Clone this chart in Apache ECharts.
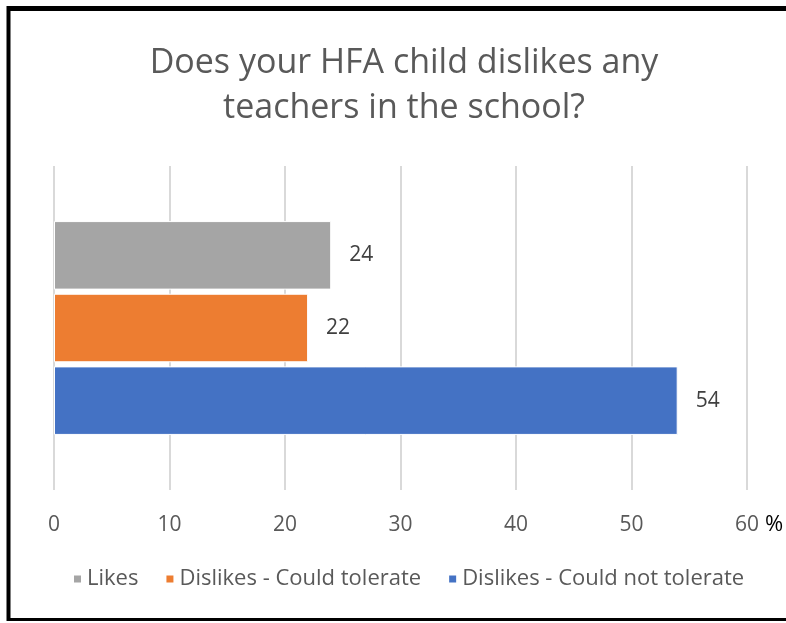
<!DOCTYPE html>
<html>
<head>
<meta charset="utf-8">
<script src="https://cdn.jsdelivr.net/npm/echarts@6/dist/echarts.min.js"></script>
<style>
  html, body { margin: 0; padding: 0; background: #fff; overflow: hidden; }
  #chart { width: 786px; height: 623px; }
</style>
</head>
<body>
<div id="chart"></div>
<script>
// data
const categories = ['HFA'];
const seriesNames = ['Likes', 'Dislikes - Could tolerate', 'Dislikes - Could not tolerate'];
const seriesValues = [[24], [22], [54]];
const seriesColors = ['#a5a5a5', '#ed7d31', '#4472c4'];
const xTicks = { min: 0, max: 60, interval: 10 };

const font = '"Open Sans", "Noto Sans", sans-serif';
const chart = echarts.init(document.getElementById('chart'));

const series = seriesNames.map((name, i) => ({
    name: name,
    type: 'bar',
    data: seriesValues[i],
    barGap: '6%',
    barCategoryGap: '34%',
    itemStyle: { color: seriesColors[i], borderColor: '#fff', borderWidth: 1 },
    label: {
        show: true,
        position: 'right',
        distance: 18,
        color: '#404040',
        fontSize: 21,
        fontFamily: font
    }
}));

chart.setOption({
    backgroundColor: '#fff',
    animation: false,
    title: {
        text: 'Does your HFA child dislikes any\nteachers in the school?',
        left: 399,
        textAlign: 'center',
        top: 36,
        textStyle: {
            color: '#595959',
            fontSize: 34,
            fontWeight: 'normal',
            fontFamily: font,
            lineHeight: 45
        }
    },
    legend: {
        bottom: 28,
        left: 67,
        icon: 'rect',
        itemWidth: 9,
        itemHeight: 9,
        itemGap: 26,
        textStyle: { color: '#595959', fontSize: 22, fontFamily: font }
    },
    grid: { left: 54, right: 39, top: 166, bottom: 133 },
    xAxis: {
        type: 'value',
        min: xTicks.min,
        max: xTicks.max,
        interval: xTicks.interval,
        axisLine: { show: false },
        axisTick: { show: false },
        axisLabel: { color: '#595959', fontSize: 21, fontFamily: font, margin: 25 },
        splitLine: { lineStyle: { color: '#d9d9d9', width: 2 } }
    },
    yAxis: {
        type: 'category',
        data: categories,
        inverse: true,
        axisLine: { show: false },
        axisTick: { show: false },
        axisLabel: { show: false }
    },
    graphic: [
        {
            type: 'text',
            left: 765,
            top: 514,
            style: { text: '%', fill: '#000', font: '22px ' + font }
        },
        {
            type: 'line',
            shape: { x1: 8.5, y1: 8.5, x2: 786, y2: 8.5 },
            style: { stroke: '#000', lineWidth: 5 }
        },
        {
            type: 'line',
            shape: { x1: 8.5, y1: 6, x2: 8.5, y2: 621 },
            style: { stroke: '#000', lineWidth: 4 }
        },
        {
            type: 'line',
            shape: { x1: 8.5, y1: 619.5, x2: 786, y2: 619.5 },
            style: { stroke: '#000', lineWidth: 3 }
        }
    ],
    series: series
});
</script>
</body>
</html>
